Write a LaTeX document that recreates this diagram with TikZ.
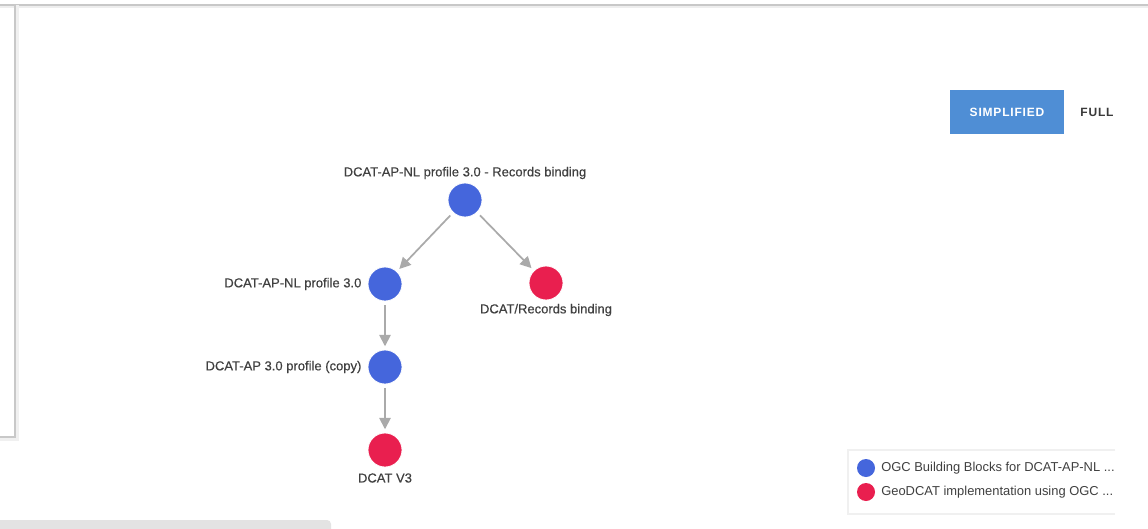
\documentclass[tikz,border=0pt]{standalone}
\usepackage{fontspec}
\setmainfont{Liberation Sans}
\newfontfamily\labelfont{Liberation Sans}[FakeBold=0.45]
\usetikzlibrary{arrows.meta}
\definecolor{nodeblue}{HTML}{4566DC}
\definecolor{nodered}{HTML}{E91F4F}
\definecolor{edgegray}{HTML}{AAAAAA}
\definecolor{labelgray}{HTML}{404040}
\definecolor{btnblue}{HTML}{4F8ED5}
\definecolor{framegray}{HTML}{C8C8C8}
\tikzset{
  blueitem/.style={circle, fill=nodeblue, draw=white, line width=0.6pt, minimum size=25.5pt, inner sep=0pt},
  reditem/.style={circle, fill=nodered, draw=white, line width=0.6pt, minimum size=25.5pt, inner sep=0pt},
  lbl/.style={font=\labelfont\fontsize{9.75}{11}\selectfont, text=labelgray, inner sep=1pt},
  edge/.style={draw=edgegray, line width=1.3pt, -{Triangle[length=8.5pt,width=8.5pt]}, shorten >=2.5pt, shorten <=3pt},
  legdot/.style={circle, minimum size=13.5pt, inner sep=0pt},
  legtext/.style={font=\fontsize{9.7}{11}\selectfont, text=labelgray, anchor=west, inner sep=0pt},
}
\begin{document}
\begin{tikzpicture}[x=0.75pt, y=-0.75pt]
\useasboundingbox (0,0) rectangle (1148,528);
\fill[white] (0,0) rectangle (1148,528);

% window frame lines with soft shadow
\fill[framegray!30] (0,5) rectangle (1148,8.5);
\draw[framegray, line width=1.2pt] (0,5) -- (1148,5);
\fill[framegray!28] (15,5) rectangle (18.5,440.5);
\fill[framegray!28] (0,437) rectangle (18.5,440.5);
\draw[framegray, line width=1.2pt] (15,5) -- (15,437) -- (0,437);

% scrollbar
\fill[gray!22, rounded corners=3pt] (-5,520) rectangle (331,534);

% view switch
\node[fill=btnblue, minimum width=85.5pt, minimum height=33pt, inner sep=0pt,
      font=\bfseries\fontsize{9}{10}\selectfont, text=white] (simple) at (1007,112) {S\kern.6pt I\kern.6pt M\kern.6pt P\kern.6pt L\kern.6pt I\kern.6pt F\kern.6pt I\kern.6pt E\kern.6pt D};
\node[font=\bfseries\fontsize{9}{10}\selectfont, text=labelgray!90!black] (full) at (1097,112) {F\kern.6pt U\kern.6pt L\kern.6pt L};

% graph nodes
\node[blueitem] (rb)  at (465,200) {};
\node[blueitem] (nl)  at (385,284) {};
\node[reditem]  (drb) at (546,283) {};
\node[blueitem] (ap)  at (385,367) {};
\node[reditem]  (v3)  at (385,450) {};

\node[lbl] (rbl)  at (465,173) {DCAT-AP-NL profile 3.0 - Records binding};
\node[lbl, anchor=east] (nll) at (363,284) {DCAT-AP-NL profile 3.0};
\node[lbl] (drbl) at (546,310) {DCAT/Records binding};
\node[lbl, anchor=east] (apl) at (363,367) {DCAT-AP 3.0 profile (copy)};
\node[lbl] (v3l)  at (385,478) {DCAT V3};

\draw[edge] (rb) -- (nl);
\draw[edge] (rb) -- (drb);
\draw[edge] (nl) -- (ap);
\draw[edge] (ap) -- (v3);

% legend
\draw[gray!12, line width=0.8pt, fill=white] (1115,450) -- (848,450) -- (848,514) -- (1115,514);
\begin{scope}
\clip (848,450) rectangle (1115,514);
\node[legdot, fill=nodeblue] (lb) at (866,468) {};
\node[legdot, fill=nodered] (lr) at (866,492) {};
\node[legtext] (lbt) at (881,468) {OGC Building Blocks for DCAT-AP-NL ...};
\node[legtext] (lrt) at (881,492) {GeoDCAT implementation using OGC ...};
\end{scope}
\end{tikzpicture}
\end{document}
